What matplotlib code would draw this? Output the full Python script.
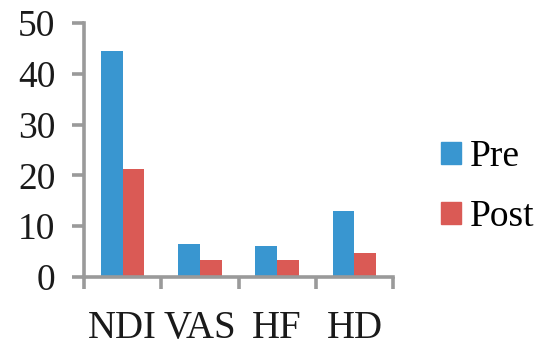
import matplotlib.pyplot as plt
import numpy as np
from matplotlib.patches import Patch

categories = ["NDI", "VAS", "HF", "HD"]
pre = [44.5, 6.5, 6.1, 12.9]
post = [21.2, 3.3, 3.3, 4.7]
series_names = ["Pre", "Post"]

BLUE = "#3996D0"
RED = "#DA5A55"
AXIS_GREY = "#9A9A9A"

plt.rcParams["font.family"] = ["Liberation Serif", "DejaVu Serif"]

fig = plt.figure(figsize=(5.41, 3.47), dpi=100)
ax = fig.add_axes([84 / 541, 70 / 347, 309 / 541, 254 / 347])

x = np.arange(len(categories)) + 0.5
w = 0.283
ax.bar(x - w / 2, pre, width=w, color=BLUE)
ax.bar(x + w / 2, post, width=w, color=RED)

ax.set_xlim(0, len(categories))
ax.set_ylim(0, 50)

for side in ("top", "right"):
    ax.spines[side].set_visible(False)
for side in ("left", "bottom"):
    ax.spines[side].set_color(AXIS_GREY)
    ax.spines[side].set_linewidth(2.6)

# boundary ticks on the category axis, names sit on minor ticks at the centres
ax.set_xticks(np.arange(len(categories) + 1))
ax.set_xticklabels([])
ax.set_xticks(x, minor=True)
ax.set_xticklabels(categories, minor=True, fontsize=28, color="#1a1a1a")
ax.tick_params(axis="x", which="major", direction="out", length=8.6,
               width=2.6, color=AXIS_GREY)
ax.tick_params(axis="x", which="minor", length=0, pad=24)

ax.set_yticks(np.arange(0, 51, 10))
ax.tick_params(axis="y", direction="out", length=8.6, width=2.6,
               color=AXIS_GREY, labelsize=27, labelcolor="#1a1a1a", pad=12)

handles = [Patch(color=BLUE), Patch(color=RED)]
fig.legend(handles, series_names, loc="center left",
           bbox_to_anchor=(441 / 541, (347 - 187) / 347),
           frameon=False, fontsize=27, handlelength=0.52, handleheight=0.52,
           handletextpad=0.25, labelspacing=0.68, borderpad=0, borderaxespad=0)

fig.savefig("out.png", dpi=100)
